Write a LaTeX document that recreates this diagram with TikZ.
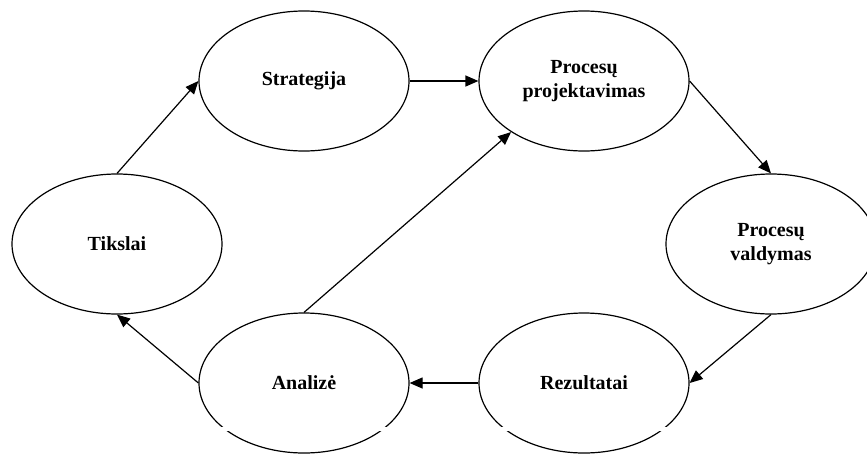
\documentclass[tikz,border=0pt]{standalone}
\usepackage{fontspec}
\setmainfont{Liberation Serif}
\usetikzlibrary{shapes.geometric,arrows.meta}
\begin{document}
\begin{tikzpicture}[x=1pt,y=-1pt,
  stage/.style={ellipse,draw,line width=1.2pt,minimum width=210pt,minimum height=140pt,
    inner sep=0pt,align=center,font=\fontsize{20}{24}\selectfont\bfseries},
  flow/.style={line width=1.2pt,-{Triangle[length=13pt,width=11pt]}},
  gap/.style={white,line width=4pt}]
\useasboundingbox (0,0) rectangle (867,453);
\node[stage] (str)  at (304,81)  {Strategija};
\node[stage] (proj) at (584,81)  {Procesų\\projektavimas};
\node[stage] (tik)  at (117,244) {Tikslai};
\node[stage] (vald) at (771,244) {Procesų\\valdymas};
\node[stage] (ana)  at (304,383) {Analizė};
\node[stage] (rez)  at (584,383) {Rezultatai};
% breaks in the lower arcs
\coordinate (anaL) at (210,428.5); \coordinate (anaR) at (398,428.5);
\coordinate (rezL) at (490,428.5); \coordinate (rezR) at (678,428.5);
\draw[gap] (anaL) -- (anaR);
\draw[gap] (rezL) -- (rezR);
% cycle
\draw[flow] (tik.north) -- (str.west);
\draw[flow] (str.east) -- (proj.west);
\draw[flow] (proj.east) -- (vald.north);
\draw[flow] (vald.south) -- (rez.east);
\draw[flow] (rez.west) -- (ana.east);
\draw[flow] (ana.west) -- (tik.south);
\draw[flow] (ana.north) -- (proj.215);
\end{tikzpicture}
\end{document}
